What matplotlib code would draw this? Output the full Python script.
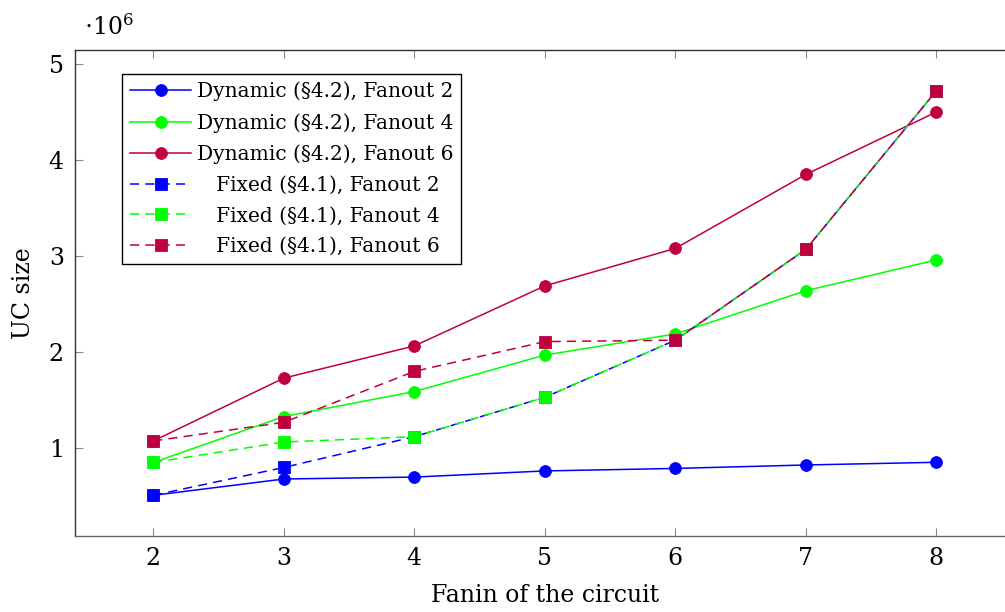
import matplotlib
matplotlib.use("Agg")
import matplotlib.pyplot as plt

fanin = [2, 3, 4, 5, 6, 7, 8]
dyn_f2 = [0.51, 0.68, 0.70, 0.764, 0.79, 0.826, 0.854]
dyn_f4 = [0.852, 1.33, 1.59, 1.97, 2.19, 2.64, 2.96]
dyn_f6 = [1.076, 1.73, 2.065, 2.69, 3.08, 3.85, 4.50]
fix_f2 = [0.51, 0.80, 1.12, 1.53, 2.125, 3.07, 4.72]
fix_f4 = [0.852, 1.065, 1.12, 1.53, 2.125, 3.07, 4.72]
fix_f6 = [1.076, 1.27, 1.80, 2.11, 2.125, 3.07, 4.72]

labels = ["Dynamic (§4.2), Fanout 2", "Dynamic (§4.2), Fanout 4", "Dynamic (§4.2), Fanout 6",
          "Fixed (§4.1), Fanout 2", "Fixed (§4.1), Fanout 4", "Fixed (§4.1), Fanout 6"]

BLUE = (0, 0, 1)
GREEN = (0, 1, 0)
PURPLE = (0.75, 0, 0.25)

plt.rcParams['font.family'] = ['DejaVu Serif']
plt.rcParams['mathtext.fontset'] = 'dejavuserif'

fig = plt.figure(figsize=(10.05, 6.12), dpi=100)
ax = fig.add_axes([0.0746, 0.1247, 0.935, 0.7937])

ms = 8.5
series = [(dyn_f2, BLUE, 'o', '-'), (dyn_f4, GREEN, 'o', '-'), (dyn_f6, PURPLE, 'o', '-'),
          (fix_f2, BLUE, 's', '--'), (fix_f4, GREEN, 's', '--'), (fix_f6, PURPLE, 's', '--')]
for (vals, col, mk, ls), lab in zip(series, labels):
    shown = lab if ls == '-' else "   " + lab
    ax.plot(fanin, vals, color=col, marker=mk, linestyle=ls, lw=1.1, markersize=ms,
            markeredgewidth=0.6, markeredgecolor=col, label=shown,
            dashes=(6, 4) if ls == '--' else (None, None))

ax.set_xlim(1.4, 8.6)
ax.set_ylim(0.09, 5.146)
ax.set_xticks(fanin)
ax.set_yticks([1, 2, 3, 4, 5])
ax.tick_params(direction='in', length=6, width=0.8, color='#888888', labelsize=17,
               top=True, right=True, pad=8)
for s in ax.spines.values():
    s.set_linewidth(1.0)
    s.set_color('#333333')
ax.spines['bottom'].set_color('#666666')

ax.set_xlabel("Fanin of the circuit", fontsize=17, labelpad=10)
ax.set_ylabel("UC size", fontsize=17, labelpad=10)
fig.text(0.084, 0.955, r'$\cdot 10^6$', fontsize=17, va='center', ha='left')

leg = ax.legend(loc='upper left', bbox_to_anchor=(0.0505, 0.951), fontsize=14.5, frameon=True,
                fancybox=False, edgecolor='black', framealpha=1, handlelength=3.0,
                handletextpad=0.3, borderpad=0.4, labelspacing=0.58, borderaxespad=0)
leg.get_frame().set_linewidth(1.0)

fig.savefig("out.png", dpi=100)
